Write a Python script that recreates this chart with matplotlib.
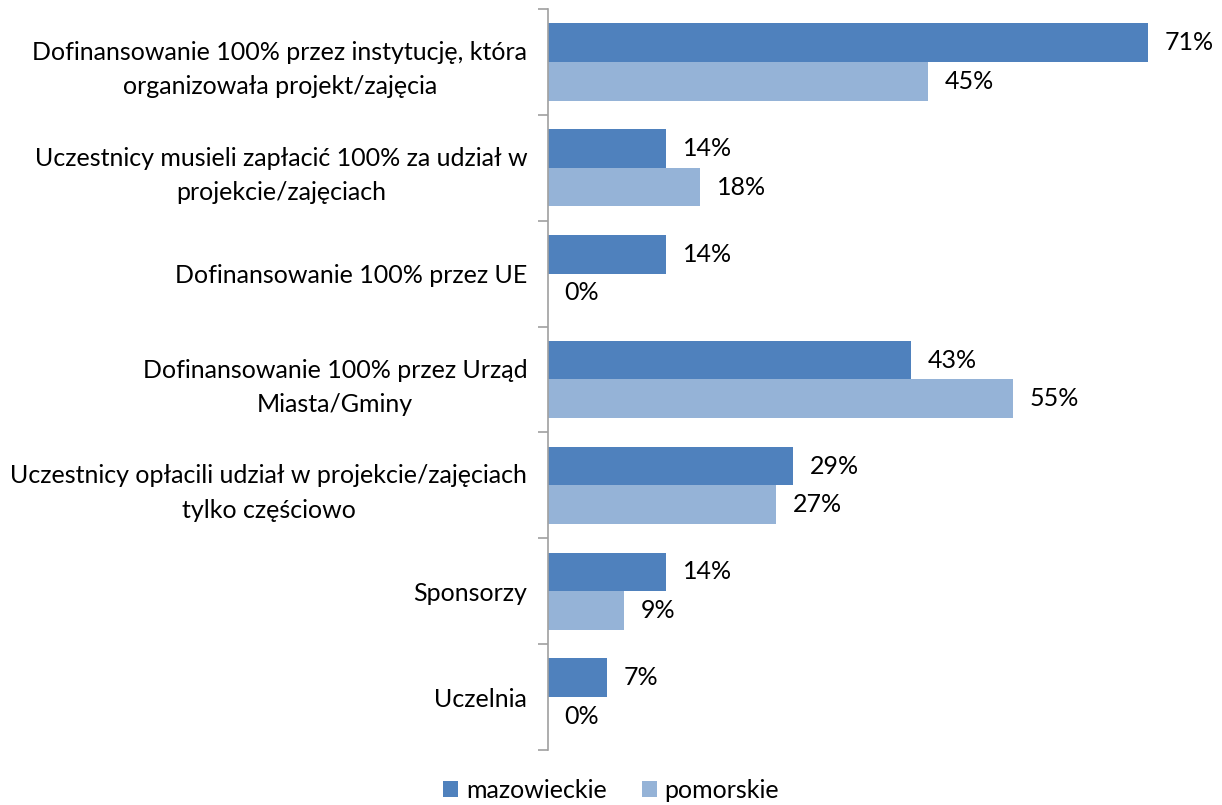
import matplotlib
matplotlib.use("Agg")
import matplotlib.pyplot as plt
import numpy as np

categories = [
    "Dofinansowanie 100% przez instytucję, która\norganizowała projekt/zajęcia",
    "Uczestnicy musieli zapłacić 100% za udział w\nprojekcie/zajęciach",
    "Dofinansowanie 100% przez UE",
    "Dofinansowanie 100% przez Urząd\nMiasta/Gminy",
    "Uczestnicy opłacili udział w projekcie/zajęciach\ntylko częściowo",
    "Sponsorzy",
    "Uczelnia",
]
mazowieckie = [0.71, 0.14, 0.14, 0.43, 0.29, 0.14, 0.07]
pomorskie = [0.45, 0.18, 0.00, 0.55, 0.27, 0.09, 0.00]
series_names = ["mazowieckie", "pomorskie"]
colors = ["#4F81BD", "#95B3D7"]

plt.rcParams['font.family'] = ['Lato', 'DejaVu Sans']
fs = 18

fig = plt.figure(figsize=(12.22, 8.05), dpi=100)
W, H = 1222, 805
left_px, right_px = 548, 1182
top_px, bot_px = 9, 750
ax = fig.add_axes([left_px / W, 1 - bot_px / H, (right_px - left_px) / W, (bot_px - top_px) / H])

n = len(categories)
y = np.arange(n)
bh = 0.365
ax.barh(y - bh / 2, mazowieckie, height=bh, color=colors[0], label=series_names[0])
ax.barh(y + bh / 2, pomorskie, height=bh, color=colors[1], label=series_names[1])

for vals, off in ((mazowieckie, -bh / 2), (pomorskie, bh / 2)):
    for i, v in enumerate(vals):
        ax.annotate(f"{round(v * 100):d}%", xy=(v, i + off), xytext=(12, 0),
                    textcoords="offset points", ha="left", va="center",
                    fontsize=fs, color="#000000", annotation_clip=False)

ax.set_xlim(0, 0.75)
ax.set_ylim(n - 0.5, -0.5)
ax.set_yticks(np.arange(n + 1) - 0.5)
ax.set_yticklabels([])
ax.set_yticks(y, minor=True)
ax.set_yticklabels(categories, minor=True, fontsize=fs, ha="right",
                   multialignment="center", linespacing=1.6)
ax.tick_params(axis="y", which="major", length=7, width=1.2, color="#A0A0A0", direction="out")
ax.tick_params(axis="y", which="minor", length=0, pad=15)
ax.set_xticks([])
for s in ["top", "right", "bottom"]:
    ax.spines[s].set_visible(False)
ax.spines["left"].set_color("#A0A0A0")
ax.spines["left"].set_linewidth(1.2)

fig.legend(loc="center", bbox_to_anchor=(0.5, 1 - 790 / H), ncol=2, frameon=False,
           fontsize=fs, handlelength=0.6, handleheight=0.6, handletextpad=0.3,
           columnspacing=1.4)

fig.savefig("out.png", dpi=100)
